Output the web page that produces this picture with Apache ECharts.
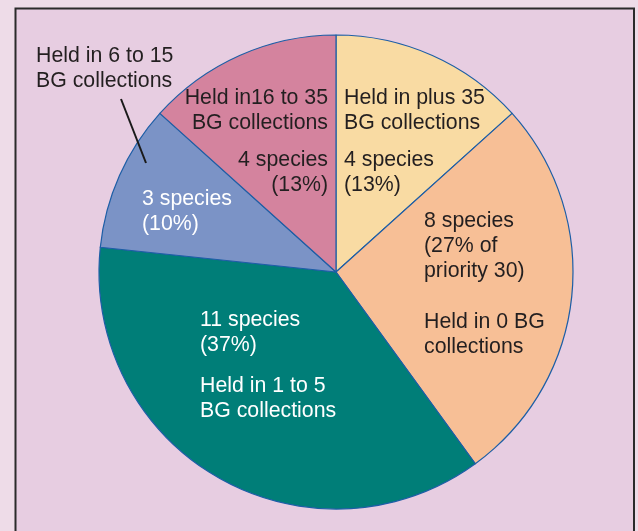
<!DOCTYPE html>
<html>
<head>
<meta charset="utf-8">
<script src="https://cdn.jsdelivr.net/npm/echarts@6/dist/echarts.min.js"></script>
<style>
html,body{margin:0;padding:0;background:#EEDCE8;}
#chart{width:638px;height:531px;}
</style>
</head>
<body>
<div id="chart"></div>
<script>
// Data
const categories = [
  'Held in plus 35 BG collections',
  'Held in 0 BG collections',
  'Held in 1 to 5 BG collections',
  'Held in 6 to 15 BG collections',
  'Held in16 to 35 BG collections'
];
const speciesCounts = [4, 8, 11, 3, 4];
const percentLabels = ['(13%)', '(27% of\npriority 30)', '(37%)', '(10%)', '(13%)'];
const groupLabels = [
  'Held in plus 35\nBG collections',
  'Held in 0 BG\ncollections',
  'Held in 1 to 5\nBG collections',
  'Held in 6 to 15\nBG collections',
  'Held in16 to 35\nBG collections'
];
const sliceColors = ['#F9DBA3', '#F7BF96', '#007E78', '#7B93C6', '#D4839E'];

const FONT = '"Liberation Sans", Arial, Helvetica, sans-serif';
const DARK = '#231F20';
const FS = 21.3;

function txt(x, y, text, color, align) {
  return {
    type: 'text', x: x, y: y, z: 10,
    style: {
      text: text, fill: color, font: FS + 'px ' + FONT,
      fontSize: FS, fontFamily: FONT,
      lineHeight: 25, align: align || 'left', verticalAlign: 'top'
    }
  };
}
function species(i) { return speciesCounts[i] + ' species\n' + percentLabels[i]; }

const chart = echarts.init(document.getElementById('chart'), null, {renderer: 'canvas'});
chart.setOption({
  animation: false,
  backgroundColor: '#EEDCE8',
  series: [{
    type: 'pie',
    center: [336, 272],
    radius: [0, 237],
    startAngle: 90,
    clockwise: true,
    label: {show: false},
    labelLine: {show: false},
    emphasis: {disabled: true},
    itemStyle: {borderColor: '#1D5EA6', borderWidth: 1.2},
    data: categories.map((c, i) => ({
      name: c, value: speciesCounts[i], itemStyle: {color: sliceColors[i]}
    })),
    z: 5
  }],
  graphic: [
    {
      type: 'rect', z: 0, silent: true,
      shape: {x: 15.5, y: 8.5, width: 618.5, height: 540},
      style: {fill: '#E7CDE1', stroke: '#2B2B2B', lineWidth: 2}
    },
    {
      type: 'line', z: 10,
      shape: {x1: 121, y1: 99, x2: 146, y2: 163},
      style: {stroke: '#1A1A1A', lineWidth: 2}
    },
    txt(36, 43.5, groupLabels[3], DARK),
    txt(328, 85.5, groupLabels[4], DARK, 'right'),
    txt(328, 147.5, species(4), DARK, 'right'),
    txt(344, 85.5, groupLabels[0], DARK),
    txt(344, 147.5, species(0), DARK),
    txt(424, 209, species(1), DARK),
    txt(424, 309.5, groupLabels[1], DARK),
    txt(142, 187, species(3), '#FFFFFF'),
    txt(200, 307.5, species(2), '#FFFFFF'),
    txt(200, 373.5, groupLabels[2], '#FFFFFF')
  ]
});
</script>
</body>
</html>
